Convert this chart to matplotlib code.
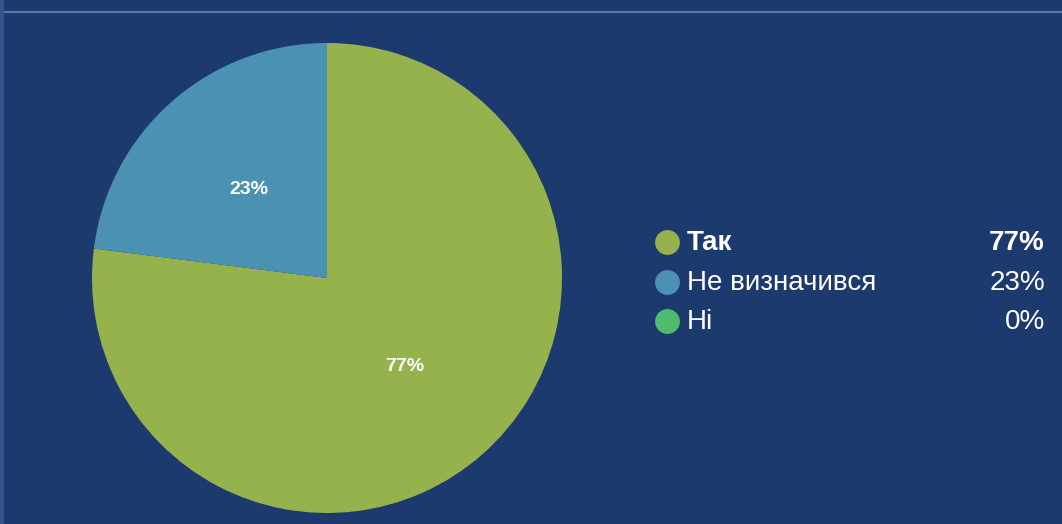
import matplotlib
matplotlib.use("Agg")
import matplotlib.pyplot as plt

labels = ["Так", "Не визначився", "Ні"]
values = [77, 23, 0]
colors = ["#95b24d", "#4a91b2", "#4fbb6c"]
value_labels = ["77%", "23%", "0%"]

plt.rcParams['font.family'] = ['Liberation Sans', 'DejaVu Sans']

W, H = 1062, 524
bg = "#1d3a6f"

fig = plt.figure(figsize=(W / 100, H / 100), dpi=100)
fig.patch.set_facecolor(bg)

# overlay in pixel coordinates for the legend and the top rule
over = fig.add_axes([0, 0, 1, 1])
over.set_xlim(0, W)
over.set_ylim(H, 0)
over.axis("off")
over.plot([4, W], [12, 12], color="#6a86b8", linewidth=1.2)
over.plot([1.5, 1.5], [0, H], color="#34548a", linewidth=3)

# pie
cx, cy, r = 327, 278, 235
ax = fig.add_axes([(cx - r) / W, (H - cy - r) / H, 2 * r / W, 2 * r / H])
ax.set_facecolor("none")
shown = [i for i, v in enumerate(values) if v > 0]
wedges, texts = ax.pie(
    [values[i] for i in shown],
    colors=[colors[i] for i in shown],
    labels=[value_labels[i] for i in shown],
    labeldistance=0.5,
    startangle=90,
    counterclock=False,
    radius=1,
    wedgeprops=dict(linewidth=0),
    textprops=dict(color="white", fontsize=14, fontweight="bold", ha="center", va="center"),
)
ax.set_xlim(-1, 1)
ax.set_ylim(-1, 1)

# legend
row_y = [242, 282, 321]
for i, lab in enumerate(labels):
    y = row_y[i]
    weight = "bold" if i == 0 else "normal"
    over.scatter([667], [y], s=320, color=colors[i], zorder=3, linewidths=0)
    over.text(687, y + 1, lab, color="white", fontsize=20, fontweight=weight,
              ha="left", va="center")
    over.text(1045, y + 1, value_labels[i], color="white", fontsize=20,
              fontweight=weight, ha="right", va="center")

fig.savefig("out.png", dpi=100, facecolor=bg)
